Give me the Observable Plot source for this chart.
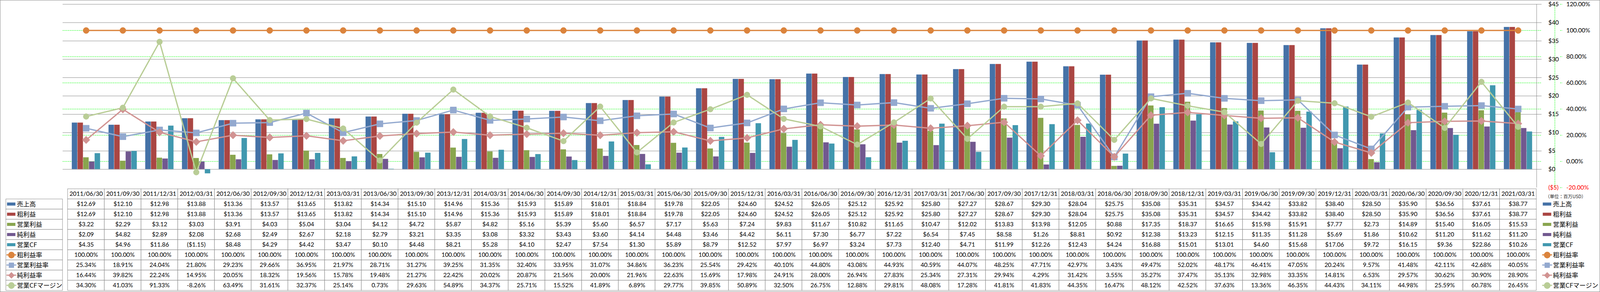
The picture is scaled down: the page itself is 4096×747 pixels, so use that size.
<!DOCTYPE html>
<html><head><meta charset="utf-8">
<script src="https://cdn.jsdelivr.net/npm/d3@7"></script>
<script src="https://cdn.jsdelivr.net/npm/@observablehq/plot@0.6"></script>
<style>
html,body{margin:0;padding:0;background:#fff;}
#wrap{position:relative;width:4096px;height:747px;overflow:hidden;background:#fff;}
#wrap svg{position:absolute;overflow:visible;}
#frame{position:absolute;left:0;top:0;width:4096px;height:747px;box-sizing:border-box;border:1px solid #8c8c8c;pointer-events:none;}
</style></head><body><div id="wrap"></div>
<script>
// ---------- data ----------
const dates = ["2011/06/30","2011/09/30","2011/12/31","2012/03/31","2012/06/30","2012/09/30","2012/12/31","2013/03/31","2013/06/30","2013/09/30","2013/12/31","2014/03/31","2014/06/30","2014/09/30","2014/12/31","2015/03/31","2015/06/30","2015/09/30","2015/12/31","2016/03/31","2016/06/30","2016/09/30","2016/12/31","2017/03/31","2017/06/30","2017/09/30","2017/12/31","2018/03/31","2018/06/30","2018/09/30","2018/12/31","2019/03/31","2019/06/30","2019/09/30","2019/12/31","2020/03/31","2020/06/30","2020/09/30","2020/12/31","2021/03/31"];
const revenue = [12.69,12.10,12.98,13.88,13.36,13.57,13.65,13.82,14.34,15.10,14.96,15.36,15.93,15.89,18.01,18.84,19.78,22.05,24.60,24.52,26.05,25.12,25.92,25.80,27.27,28.67,29.30,28.04,25.75,35.08,35.31,34.57,34.42,33.82,38.40,28.50,35.90,36.56,37.61,38.77];
const grossProfit = [12.69,12.10,12.98,13.88,13.36,13.57,13.65,13.82,14.34,15.10,14.96,15.36,15.93,15.89,18.01,18.84,19.78,22.05,24.60,24.52,26.05,25.12,25.92,25.80,27.27,28.67,29.30,28.04,25.75,35.08,35.31,34.57,34.42,33.82,38.40,28.50,35.90,36.56,37.61,38.77];
const operatingIncome = [3.22,2.29,3.12,3.03,3.91,4.03,5.04,3.04,4.12,4.72,5.87,4.82,5.16,5.39,5.60,6.57,7.17,5.63,7.24,9.83,11.67,10.82,11.65,10.47,12.02,13.83,13.98,12.05,0.88,17.35,18.37,16.65,15.98,15.91,7.77,2.73,14.89,15.40,16.05,15.53];
const netIncome = [2.09,4.82,2.89,2.08,2.68,2.49,2.67,2.18,2.79,3.21,3.35,3.08,3.32,3.43,3.60,4.14,4.48,3.46,4.42,6.11,7.30,6.77,7.22,6.54,7.45,8.58,1.26,8.81,0.92,12.38,13.23,12.15,11.35,11.28,5.69,1.86,10.62,11.20,11.62,11.20];
const operatingCF = [4.35,4.96,11.86,-1.15,8.48,4.29,4.42,3.47,0.10,4.48,8.21,5.28,4.10,2.47,7.54,1.30,5.89,8.79,12.52,7.97,6.97,3.24,7.73,12.40,4.71,11.99,12.26,12.43,4.24,16.88,15.01,13.01,4.60,15.68,17.06,9.72,16.15,9.36,22.86,10.26];
const grossMargin = [100,100,100,100,100,100,100,100,100,100,100,100,100,100,100,100,100,100,100,100,100,100,100,100,100,100,100,100,100,100,100,100,100,100,100,100,100,100,100,100];
const operatingMargin = [25.34,18.91,24.04,21.80,29.23,29.66,36.95,21.97,28.71,31.27,39.25,31.35,32.40,33.95,31.07,34.86,36.23,25.54,29.42,40.10,44.80,43.08,44.93,40.59,44.07,48.25,47.71,42.97,3.43,49.47,52.02,48.17,46.41,47.05,20.24,9.57,41.48,42.11,42.68,40.05];
const netMargin = [16.44,39.82,22.24,14.95,20.05,18.32,19.56,15.78,19.48,21.27,22.42,20.02,20.87,21.56,20.00,21.96,22.63,15.69,17.98,24.91,28.00,26.94,27.83,25.34,27.31,29.94,4.29,31.42,3.55,35.27,37.47,35.13,32.98,33.35,14.81,6.53,29.57,30.62,30.90,28.90];
const ocfMargin = [34.30,41.03,91.33,-8.26,63.49,31.61,32.37,25.14,0.73,29.63,54.89,34.37,25.71,15.52,41.89,6.89,29.77,39.85,50.89,32.50,26.75,12.88,29.81,48.08,17.28,41.81,41.83,44.35,16.47,48.12,42.52,37.63,13.36,46.35,44.43,34.11,44.98,25.59,60.78,26.45];
const dollarTicks = [-5,0,5,10,15,20,25,30,35,40,45];
const percentTicks = [-20,0,20,40,60,80,100,120];
const unitNote = "（単位：百万USD）";

// ---------- layout ----------
const K = 0.697, W = 4096, H = 747;
const mL = 230*K, plotRight = 5662*K, mR = W - plotRight, mT = 15*K, plotBottom = 688*K;
const bw = (W - mL - mR) / dates.length;
const groupW = bw*105/136, barW = groupW/5;
const toY = p => -5 + (p + 20) * 50 / 140;
const fromY = v => Math.round((v + 5) * 140 / 50 - 20);
const fmtD = v => v < 0 ? `($${(-v).toFixed(2)})` : `$${v.toFixed(2)}`;
const fmtP = v => `${v.toFixed(2)}%`;
const numFont = "Lato, 'Open Sans', sans-serif";
const cjkFont = "'Noto Sans CJK JP', sans-serif";
const gridGray = "#878787", tableGray = "#8c8c8c", green = "#00FF00", dash = "3,1.6";

const series = [
  {key:"売上高", values: revenue, fmt: fmtD, kind:"bar", color:"#4572A7"},
  {key:"粗利益", values: grossProfit, fmt: fmtD, kind:"bar", color:"#AA4643"},
  {key:"営業利益", values: operatingIncome, fmt: fmtD, kind:"bar", color:"#89A54E"},
  {key:"純利益", values: netIncome, fmt: fmtD, kind:"bar", color:"#71588F"},
  {key:"営業CF", values: operatingCF, fmt: fmtD, kind:"bar", color:"#4198AF"},
  {key:"粗利益率", values: grossMargin, fmt: fmtP, kind:"line", color:"#DB843D", symbol:"circle", r: 11*K, lr: 11*K},
  {key:"営業利益率", values: operatingMargin, fmt: fmtP, kind:"line", color:"#93A9CF", symbol:"square", r: 8.9, lr: 6.8},
  {key:"純利益率", values: netMargin, fmt: fmtP, kind:"line", color:"#D19392", symbol:"diamond2", r: 8.8, lr: 6.6},
  {key:"営業CFマージン", values: ocfMargin, fmt: fmtP, kind:"line", color:"#B9CD96", symbol:"circle", r: 10.5*K, lr: 11*K}
];
const rowsOf = vals => dates.map((d, i) => ({date: d, value: vals[i]}));

// ---------- main chart ----------
const bars = series.filter(s => s.kind === "bar");
const lines = series.filter(s => s.kind === "line");
const chart = Plot.plot({
  width: W, height: H,
  marginLeft: mL, marginRight: mR, marginTop: mT, marginBottom: H - plotBottom,
  x: {type: "band", domain: dates, padding: 0, axis: null, label: null},
  y: {domain: [-5, 45], label: null},
  style: {background: "transparent", overflow: "visible", fontFamily: numFont, fontSize: "15.5px", color: "#000"},
  marks: [
    Plot.ruleY(percentTicks.filter(p => p > -20 && p < 120).map(toY), {stroke: green, strokeWidth: 1, strokeDasharray: dash}),
    Plot.ruleY(dollarTicks.filter(d => d >= 0), {stroke: gridGray, strokeWidth: 1}),
    ...bars.map((s, i) => Plot.barY(rowsOf(s.values), {
      x: "date", y: "value", fill: s.color,
      insetLeft: (bw - groupW)/2 + i*barW,
      insetRight: bw - (bw - groupW)/2 - (i + 1)*barW
    })),
    ...lines.flatMap(s => [
      Plot.line(rowsOf(s.values), {x: "date", y: d => toY(d.value), stroke: s.color, strokeWidth: 4.7*K, strokeLinejoin: "round"}),
      Plot.dot(rowsOf(s.values), {x: "date", y: d => toY(d.value), symbol: s.symbol, r: s.r, fill: s.color, stroke: s.color, strokeWidth: 1, strokeLinejoin: "round"})
    ]),
    Plot.ruleX([dates[dates.length - 1]], {dx: bw/2, y1: -5, y2: 45, stroke: gridGray, strokeWidth: 1}),
    Plot.ruleX([dates[dates.length - 1]], {dx: bw/2 + 67*K, y1: -5, y2: 45, stroke: green, strokeWidth: 1, strokeDasharray: dash}),
    Plot.axisY({anchor: "right", ticks: percentTicks.map(toY), tickSize: 8*K, tickFormat: () => "", dx: 67*K, stroke: green, strokeDasharray: dash}),
    Plot.axisY({anchor: "right", ticks: dollarTicks.filter(d => d >= 0), tickSize: 0, tickPadding: 24*K, textAnchor: "start",
      tickFormat: d => d < 0 ? `($${-d})` : `$${d}`, fontSize: 15.5, fill: "#000"}),
    Plot.axisY({anchor: "right", ticks: dollarTicks.filter(d => d < 0), tickSize: 0, tickPadding: 24*K, textAnchor: "start",
      tickFormat: d => d < 0 ? `($${-d})` : `$${d}`, fontSize: 15.5, fill: "#FF0000"}),
    Plot.axisY({anchor: "right", ticks: percentTicks.filter(p => p >= 0).map(toY), tickSize: 0, tickPadding: 90*K, textAnchor: "start",
      tickFormat: v => `${fromY(v).toFixed(2)}%`, fontSize: 15.5, fill: "#000"}),
    Plot.axisY({anchor: "right", ticks: percentTicks.filter(p => p < 0).map(toY), tickSize: 0, tickPadding: 90*K, textAnchor: "start",
      tickFormat: v => `${fromY(v).toFixed(2)}%`, fontSize: 15.5, fill: "#FF0000"})
  ]
});

// ---------- table ----------
const tableTop = 688*K, tableH = (1069 - 688)*K;
const tableRows = ["hdr", ...series.map(s => s.key)];
const rowH = tableH / tableRows.length;
const cells = [];
dates.forEach((d, i) => {
  cells.push({date: d, row: "hdr", text: d});
  series.forEach(s => cells.push({date: d, row: s.key, text: s.fmt(s.values[i])}));
});
const table = Plot.plot({
  width: W, height: tableH, marginLeft: mL, marginRight: mR, marginTop: 0, marginBottom: 0,
  x: {type: "band", domain: dates, padding: 0, axis: null},
  y: {type: "band", domain: tableRows, padding: 0, axis: null},
  style: {background: "transparent", overflow: "visible", fontFamily: numFont},
  marks: [
    Plot.cell(cells, {x: "date", y: "row", fill: "white", stroke: tableGray, strokeWidth: 1}),
    Plot.text(cells, {x: "date", y: "row", text: "text", fontSize: 15.4, fontFamily: numFont, fill: "#000"})
  ]
});

// legend-like label columns (left: inside table, right: outside)
function labelMarks(colL, colR, swL, swR, textX, mkX, withBorders) {
  const c = () => "c";
  const center = (colL + colR) / 2;
  const marks = [];
  if (withBorders) marks.push(Plot.cell(series, {x: c, y: "key", fill: "white", stroke: tableGray, strokeWidth: 1}));
  series.forEach(s => {
    if (s.kind === "bar") {
      marks.push(Plot.cell([s], {x: c, y: "key", fill: s.color,
        insetLeft: swL - colL, insetRight: colR - swR, insetTop: (rowH - 12*K)/2, insetBottom: (rowH - 12*K)/2}));
    } else {
      marks.push(Plot.cell([s], {x: c, y: "key", fill: s.color,
        insetLeft: swL - 2*K - colL, insetRight: colR - (swR + 3*K), insetTop: (rowH - 5*K)/2, insetBottom: (rowH - 5*K)/2}));
      marks.push(Plot.dot([s], {x: c, y: "key", dx: mkX - center, symbol: s.symbol, r: s.lr, fill: s.color, stroke: s.color, strokeLinejoin: "round"}));
    }
  });
  marks.push(Plot.text(series, {x: c, y: "key", text: "key", textAnchor: "start", dx: textX - center,
    fontFamily: cjkFont, fontSize: 16.2, fill: "#000"}));
  return marks;
}
const leftL = 20.7*K;
const leftCol = Plot.plot({
  width: mL, height: tableH, marginLeft: leftL, marginRight: 0, marginTop: 0, marginBottom: 0,
  x: {type: "band", domain: ["c"], padding: 0, axis: null},
  y: {type: "band", domain: tableRows, padding: 0, axis: null},
  style: {background: "transparent", overflow: "visible"},
  marks: labelMarks(leftL, mL, 25*K, 57*K, 61*K, 41*K, true)
});
const rightW = W - plotRight;
const rightCol = Plot.plot({
  width: rightW, height: tableH, marginLeft: 0, marginRight: 0, marginTop: 0, marginBottom: 0,
  x: {type: "band", domain: ["c"], padding: 0, axis: null},
  y: {type: "band", domain: tableRows, padding: 0, axis: null},
  style: {background: "transparent", overflow: "visible"},
  marks: [
    ...labelMarks(0, rightW, 5*K, 37*K, 42*K, 21*K, false),
    Plot.text([unitNote], {x: () => "c", y: () => "hdr", text: d => d, textAnchor: "start",
      dx: 14*K - rightW/2, dy: 10*K, fontFamily: cjkFont, fontSize: 11.6, fill: "#222"})
  ]
});

// ---------- assemble ----------
const wrap = document.getElementById("wrap");
function place(el, left, top) { el.style.left = left + "px"; el.style.top = top + "px"; wrap.appendChild(el); }
place(table, 0, tableTop);
place(leftCol, 0, tableTop);
place(rightCol, plotRight, tableTop);
place(chart, 0, 0);
const frame = document.createElement("div"); frame.id = "frame"; wrap.appendChild(frame);
</script></body></html>
